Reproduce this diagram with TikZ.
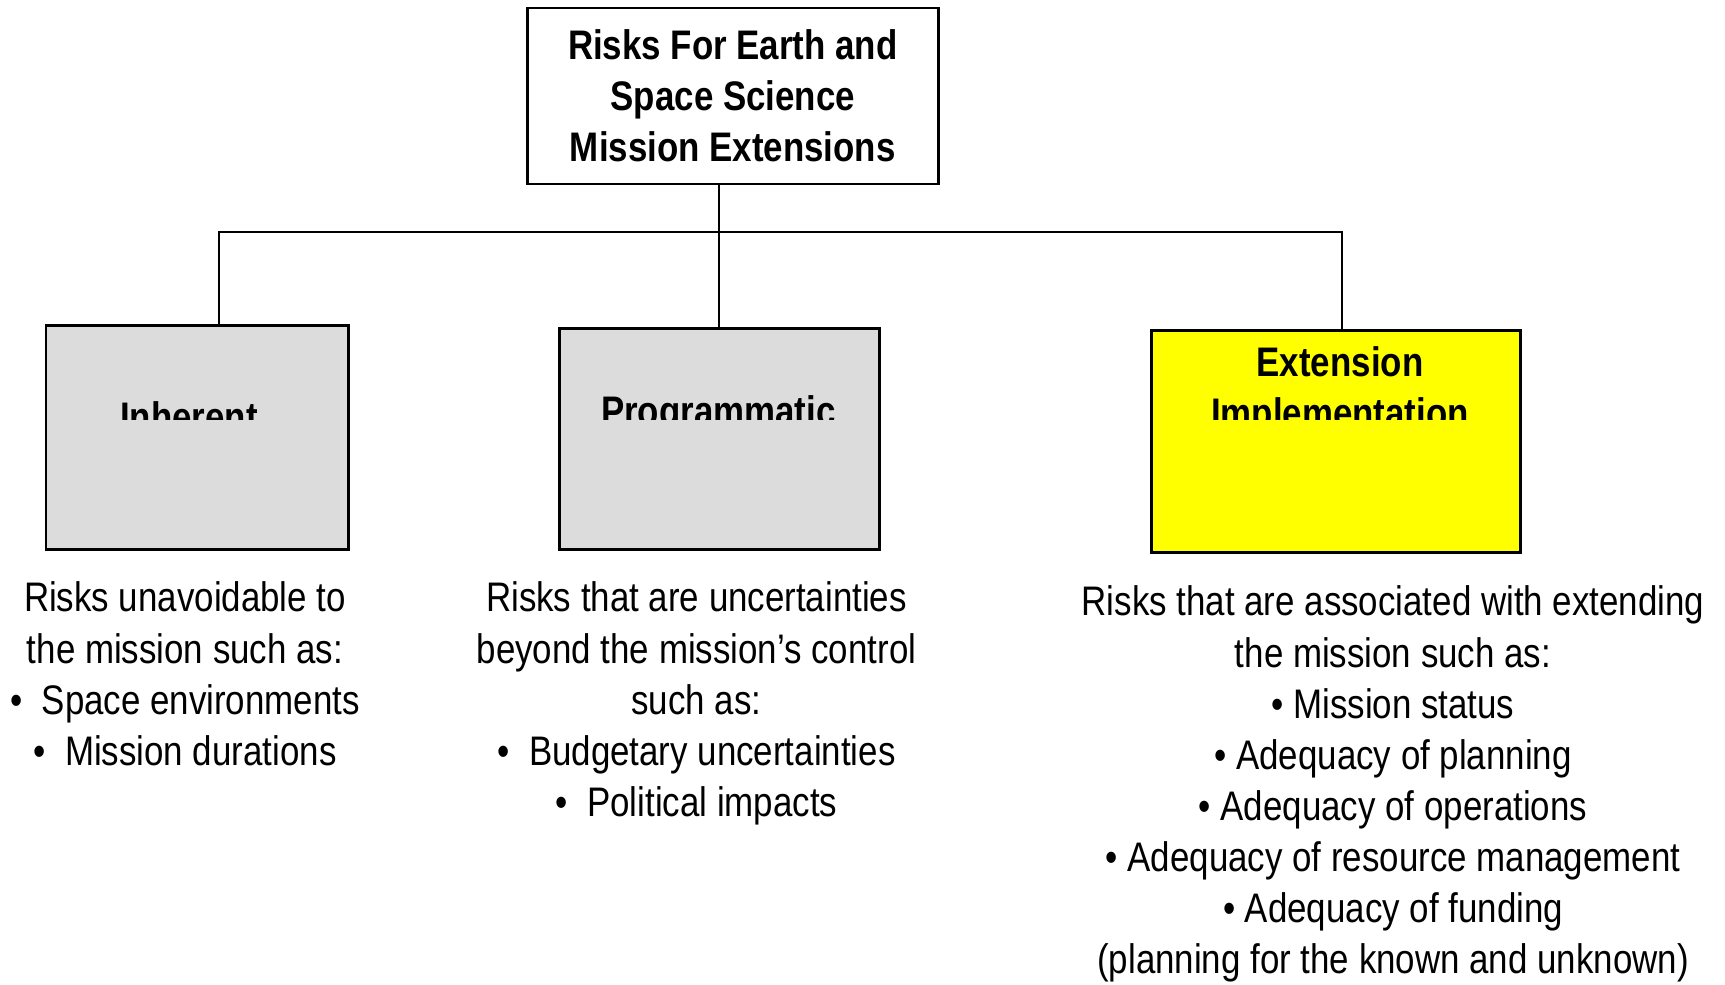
\documentclass[tikz,border=0pt]{standalone}
\usepackage{fontspec}
\setmainfont{Liberation Sans}[FakeStretch=0.845]
\usetikzlibrary{positioning}
\definecolor{boxgray}{RGB}{220,220,220}
\definecolor{boxyellow}{RGB}{255,255,0}
\tikzset{catbox/.style={
		draw,
		line width=0.8pt,
		inner sep=0pt},
	heading/.style={
		align=center,
		inner sep=0pt,
		anchor=north,
		font=\fontsize{11.74}{14.53}\selectfont\bfseries},
	desc/.style={
		align=center,
		inner sep=0pt,
		anchor=north,
		font=\fontsize{11.74}{14.53}\selectfont}
	}

\begin{document}
\begin{tikzpicture}[x=0.01cm,y=-0.01cm,line width=0.6pt]
			\useasboundingbox (0,0) rectangle (1725,984);
			\node [catbox,heading,anchor=center,minimum width=4.11cm,minimum height=1.76cm] (top) at (732.8,96) {Risks For Earth and\\Space Science\\Mission Extensions};
			\node [catbox,fill=boxgray,minimum width=3.02cm,minimum height=2.24cm] (inh) at (197,437.3) {};
			\node [catbox,fill=boxgray,minimum width=3.2cm,minimum height=2.21cm] (prog) at (719.4,438.8) {};
			\node [catbox,fill=boxyellow,minimum width=3.69cm,minimum height=2.22cm] (ext) at (1335.8,441.3) {};
			\coordinate (bus) at (718.4,231.8);
			\coordinate (inhjoin) at ([xshift=0.219cm]inh.north);
			\coordinate (extjoin) at ([xshift=0.065cm]ext.north);
			\draw (prog.north) -- (prog.north |- top.south);
			\draw (inhjoin) |- (bus) -| (extjoin);
			\begin{scope}
				\clip (0,0) rectangle (1725,419);
				\node [heading] (inhT) at (189,401) {Inherent};
				\node [heading] (progT) at (718.4,395) {Programmatic};
				\node [heading] (extT) at (1340,345.3) {Extension\\Implementation};
			\end{scope}
			\node [desc] (inhD) at (185,581) {Risks unavoidable to\\the mission such as:\\\textbullet\ \ Space environments\\\textbullet\ \ Mission durations};
			\node [desc] (progD) at (696.5,581) {Risks that are uncertainties\\beyond the mission’s control\\such as:\\\textbullet\ \ Budgetary uncertainties\\\textbullet\ \ Political impacts};
			\node [desc] (extD) at (1393,585) {Risks that are associated with extending\\the mission such as:\\\textbullet\ Mission status\\\textbullet\ Adequacy of planning\\\textbullet\ Adequacy of operations\\\textbullet\ Adequacy of resource management\\\textbullet\ Adequacy of funding\\(planning for the known and unknown)};
		\end{tikzpicture}
\end{document}
